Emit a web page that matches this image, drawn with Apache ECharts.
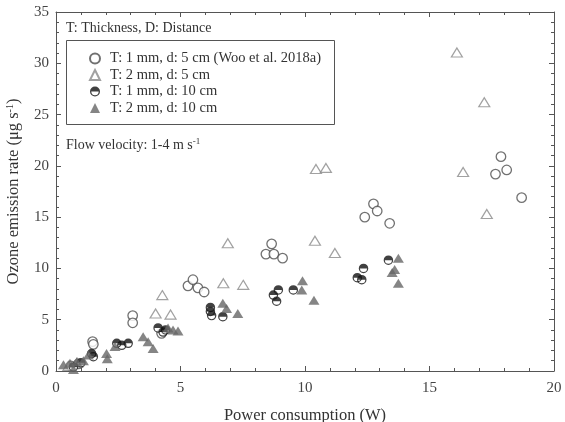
<!DOCTYPE html>
<html>
<head>
<meta charset="utf-8">
<script src="https://cdn.jsdelivr.net/npm/echarts@6/dist/echarts.min.js"></script>
<style>
  html, body { margin: 0; padding: 0; background: #fff; }
  #chart { width: 565px; height: 422px; }
</style>
</head>
<body>
<div id="chart"></div>
<script>
// T: 1 mm, d: 5 cm (Woo et al. 2018a) - open circles
const woo = [
  [0.6, 0.5], [0.9, 0.7], [1.47, 2.86], [1.5, 2.6], [3.08, 5.4], [3.08, 4.7], [4.24, 3.67],
  [5.3, 8.3], [5.5, 8.9], [5.7, 8.1], [5.95, 7.7],
  [8.43, 11.4], [8.66, 12.4], [8.75, 11.4], [9.1, 11.0],
  [12.4, 15.0], [12.75, 16.3], [12.9, 15.6], [13.4, 14.4],
  [17.65, 19.2], [17.87, 20.9], [18.1, 19.6], [18.7, 16.9]
];
// T: 2 mm, d: 5 cm - open triangles
const t2d5 = [
  [0.5, 0.5], [0.85, 0.8], [4.0, 5.6], [4.27, 7.4], [4.6, 5.5],
  [6.72, 8.55], [6.9, 12.45], [7.52, 8.4],
  [10.4, 12.7], [10.44, 19.7], [10.84, 19.8], [11.2, 11.5],
  [16.1, 31.05], [16.35, 19.4], [17.2, 26.2], [17.3, 15.3]
];
// T: 1 mm, d: 10 cm - half filled circles
const t1d10 = [
  [0.7, 0.4], [1.0, 0.8], [1.43, 1.7], [1.5, 1.4],
  [2.44, 2.7], [2.64, 2.5], [2.9, 2.7],
  [4.1, 4.2], [4.3, 3.8], [4.4, 4.0],
  [6.2, 6.2], [6.2, 5.8], [6.25, 5.4], [6.7, 5.3],
  [8.73, 7.4], [8.86, 6.8], [8.93, 7.9], [9.53, 7.9],
  [12.1, 9.1], [12.28, 8.9], [12.35, 10.0], [13.35, 10.8]
];
// T: 2 mm, d: 10 cm - filled triangles
const t2d10 = [
  [0.3, 0.6], [0.56, 0.75], [0.7, 0.15], [0.83, 0.9], [1.1, 1.0], [1.3, 1.56],
  [2.03, 1.7], [2.06, 1.2], [2.37, 2.4],
  [3.5, 3.35], [3.7, 2.86], [3.9, 2.2],
  [4.5, 4.2], [4.7, 4.0], [4.9, 3.9],
  [6.7, 6.6], [6.85, 6.1], [7.3, 5.6],
  [9.87, 7.9], [9.9, 8.8], [10.36, 6.9],
  [13.5, 9.6], [13.6, 9.9], [13.75, 11.0], [13.75, 8.55]
];
const seriesNames = [
  "T: 1 mm, d: 5 cm (Woo et al. 2018a)",
  "T: 2 mm, d: 5 cm",
  "T: 1 mm, d: 10 cm",
  "T: 2 mm, d: 10 cm"
];

const font = "Liberation Serif";
const halfPath = "path://M0,5A5,5,0,1,1,10,5A5,5,0,1,1,0,5Z" +
  "M1.3,5A3.7,3.7,0,1,0,8.7,5A3.7,3.7,0,1,0,1.3,5Z" +
  "M1.3,5A3.7,3.7,0,0,1,8.7,5Z";

// shared axis look
let tickStyle = { lineStyle: { color: "#555", width: 1 } };
let makeX = (pos, labels) => ({
  type: "value", position: pos, min: 0, max: 20, interval: 5,
  axisLine: { show: true, onZero: false, lineStyle: { color: "#555", width: 1 } },
  axisTick: { show: true, inside: true, length: 5, ...tickStyle },
  minorTick: { show: true, splitNumber: 5, length: 3, ...tickStyle },
  splitLine: { show: false },
  axisLabel: { show: labels, fontFamily: font, fontSize: 15, color: "#444", margin: 10 }
});
let makeY = (pos, labels) => ({
  type: "value", position: pos, min: 0, max: 35, interval: 5,
  axisLine: { show: true, onZero: false, lineStyle: { color: "#555", width: 1 } },
  axisTick: { show: true, inside: true, length: 5, ...tickStyle },
  minorTick: { show: true, splitNumber: 5, length: 3, ...tickStyle },
  splitLine: { show: false },
  axisLabel: { show: labels, fontFamily: font, fontSize: 15, color: "#444", margin: 7 }
});

let xMain = makeX("bottom", true);
xMain.name = "Power consumption (W)";
xMain.nameLocation = "middle";
xMain.nameGap = 36;
xMain.nameTextStyle = { fontFamily: font, fontSize: 16.5, color: "#333" };

let yMain = makeY("left", true);
yMain.name = "Ozone emission rate (\u03bcg s{sup|-1})";
yMain.nameLocation = "middle";
yMain.nameGap = 33;
yMain.nameTextStyle = {
  fontFamily: font, fontSize: 16.5, color: "#333",
  rich: { sup: { fontFamily: font, fontSize: 10, color: "#333", verticalAlign: "top", padding: [0, 0, 8, 0] } }
};

let option = {
  backgroundColor: "#fff",
  animation: false,
  grid: { left: 56, right: 11, top: 12, bottom: 51, outerBoundsMode: "none" },
  xAxis: [xMain, makeX("top", false)],
  yAxis: [yMain, makeY("right", false)],
  legend: {
    orient: "vertical",
    left: 89, top: 51, padding: 0,
    itemWidth: 10, itemHeight: 10, itemGap: 1.5,
    data: seriesNames,
    textStyle: { fontFamily: font, fontSize: 14.5, color: "#333", lineHeight: 10, padding: [0, 0, 0, 5] }
  },
  graphic: [
    { type: "rect", left: 64, top: 38, shape: { width: 268, height: 84 },
      style: { fill: "none", stroke: "#555", lineWidth: 1 } },
    { type: "text", left: 66, top: 21,
      style: { text: "T: Thickness, D: Distance", font: "14px " + font, fill: "#333" } },
    { type: "text", left: 66, top: 137,
      style: {
        text: "Flow velocity: 1-4 m s{sup|-1}", font: "14px " + font, fill: "#333",
        rich: { sup: { font: "9px " + font, fill: "#333", verticalAlign: "top", padding: [0, 0, 7, 0] } }
      } }
  ],
  series: [
    {
      name: seriesNames[0], type: "scatter", data: woo,
      symbol: "circle", symbolSize: 9.5,
      itemStyle: { color: "#fff", borderColor: "#4d4d4d", borderWidth: 1.3 }
    },
    {
      name: seriesNames[1], type: "scatter", data: t2d5,
      symbol: "triangle", symbolSize: [11, 9],
      itemStyle: { color: "#fff", borderColor: "#8a8a8a", borderWidth: 1.2 }
    },
    {
      name: "bg", type: "scatter", data: t1d10, silent: true,
      symbol: "circle", symbolSize: 8,
      itemStyle: { color: "#fff" }
    },
    {
      name: seriesNames[2], type: "scatter", data: t1d10,
      symbol: halfPath, symbolSize: 9.5,
      itemStyle: { color: "#111" }
    },
    {
      name: seriesNames[3], type: "scatter", data: t2d10,
      symbol: "triangle", symbolSize: [11, 9],
      itemStyle: { color: "#666" }
    }
  ]
};

let myChart = echarts.init(document.getElementById("chart"));
myChart.setOption(option);
</script>
</body>
</html>
